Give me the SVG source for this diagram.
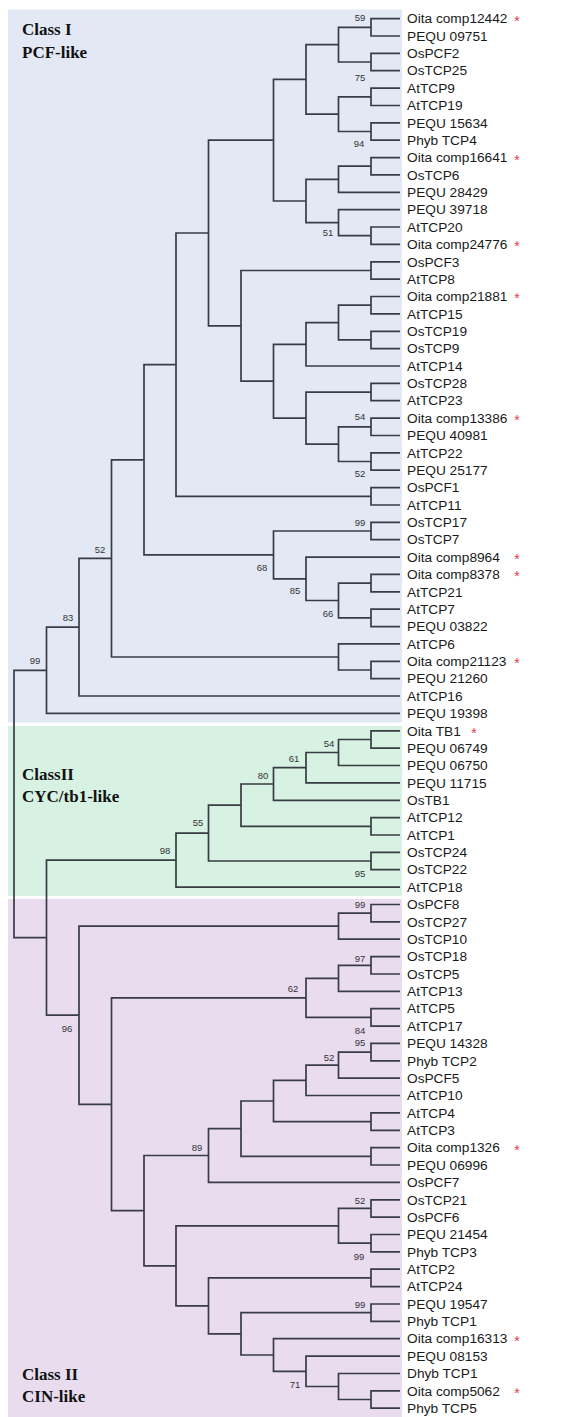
<svg xmlns="http://www.w3.org/2000/svg" width="587" height="1417" viewBox="0 0 587 1417">
<style>
.br{fill:none;stroke:#383c44;stroke-width:1.7;stroke-linejoin:miter;stroke-linecap:butt}
.lf{font-family:"Liberation Sans",Arial,sans-serif;font-size:13.7px;fill:#1a1a1a}
.bs{font-family:"Liberation Sans",Arial,sans-serif;font-size:9.5px;fill:#333;text-anchor:middle}
.st{font-family:"Liberation Sans",Arial,sans-serif;font-size:14px;fill:#e53940;text-anchor:middle}
.cl{font-family:"Liberation Serif","Times New Roman",serif;font-size:17px;font-weight:bold;fill:#111}
</style>
<rect width="587" height="1417" fill="#ffffff"/>
<g id="panels">
<rect x="8" y="9.5" width="394" height="713" fill="#e3e9f4"/>
<rect x="8" y="726" width="394" height="170" fill="#d7f1e3"/>
<rect x="8" y="899" width="394" height="518" fill="#e9dcef"/>
</g>
<g id="class-titles">
<text class="cl" x="22" y="35">Class I</text>
<text class="cl" x="22" y="58">PCF-like</text>
<text class="cl" x="22" y="780">ClassII</text>
<text class="cl" x="22" y="802">CYC/tb1-like</text>
<text class="cl" x="22" y="1380">Class II</text>
<text class="cl" x="22" y="1402">CIN-like</text>
</g>
<g id="connectors" class="br">
<path d="M400 18.6H371V36H400"/>
<path d="M400 53.3H371V70.7H400"/>
<path d="M371 27.3H338.5V62H371"/>
<path d="M400 88.1H371V105.5H400"/>
<path d="M400 122.8H371V140.2H400"/>
<path d="M371 96.8H338.5V131.5H371"/>
<path d="M338.5 44.7H306V114.1H338.5"/>
<path d="M400 157.6H371V174.9H400"/>
<path d="M371 166.2H338.5V192.3H400"/>
<path d="M400 227H371V244.4H400"/>
<path d="M400 209.7H338.5V235.7H371"/>
<path d="M338.5 179.3H306V222.7H338.5"/>
<path d="M306 79.4H273.5V201H306"/>
<path d="M400 261.8H371V279.2H400"/>
<path d="M400 296.5H371V313.9H400"/>
<path d="M400 331.3H371V348.6H400"/>
<path d="M371 305.2H338.5V339.9H371"/>
<path d="M338.5 322.6H306V366H400"/>
<path d="M400 383.4H371V400.7H400"/>
<path d="M400 418.1H371V435.5H400"/>
<path d="M400 452.9H371V470.2H400"/>
<path d="M371 426.8H338.5V461.5H371"/>
<path d="M371 392.1H306V444.2H338.5"/>
<path d="M306 344.3H273.5V418.1H306"/>
<path d="M371 270.5H241V381.2H273.5"/>
<path d="M273.5 140.2H208.5V325.8H241"/>
<path d="M400 487.6H371V505H400"/>
<path d="M208.5 233H176V496.3H371"/>
<path d="M400 522.3H371V539.7H400"/>
<path d="M400 574.4H371V591.8H400"/>
<path d="M400 609.2H371V626.6H400"/>
<path d="M371 583.1H338.5V617.9H371"/>
<path d="M400 557.1H306V600.5H338.5"/>
<path d="M371 531H273.5V578.8H306"/>
<path d="M176 364.7H144V554.9H273.5"/>
<path d="M400 661.3H371V678.7H400"/>
<path d="M400 643.9H338.5V670H371"/>
<path d="M144 459.8H111.5V657H338.5"/>
<path d="M111.5 558.4H79V696H400"/>
<path d="M79 627.2H46.5V713.4H400"/>
<path d="M400 730.8H371V748.1H400"/>
<path d="M371 739.5H338.5V765.5H400"/>
<path d="M338.5 752.5H306V782.9H400"/>
<path d="M306 767.7H273.5V800.3H400"/>
<path d="M400 817.6H371V835H400"/>
<path d="M273.5 784H241V826.3H371"/>
<path d="M400 852.4H371V869.7H400"/>
<path d="M241 805.1H208.5V861H371"/>
<path d="M208.5 833.1H176V887.1H400"/>
<path d="M400 904.5H371V921.8H400"/>
<path d="M371 913.2H338.5V939.2H400"/>
<path d="M400 956.6H371V974H400"/>
<path d="M371 965.3H338.5V991.3H400"/>
<path d="M400 1008.7H371V1026.1H400"/>
<path d="M338.5 978.3H306V1017.4H371"/>
<path d="M400 1043.4H371V1060.8H400"/>
<path d="M371 1052.1H338.5V1078.2H400"/>
<path d="M338.5 1065.1H306V1095.5H400"/>
<path d="M400 1112.9H371V1130.3H400"/>
<path d="M306 1080.3H273.5V1121.6H371"/>
<path d="M400 1147.7H371V1165H400"/>
<path d="M273.5 1101H241V1156.3H371"/>
<path d="M241 1128.7H208.5V1182.4H400"/>
<path d="M400 1199.8H371V1217.1H400"/>
<path d="M400 1234.5H371V1251.9H400"/>
<path d="M371 1208.4H338.5V1243.2H371"/>
<path d="M400 1269.2H371V1286.6H400"/>
<path d="M400 1304H371V1321.4H400"/>
<path d="M400 1390.8H371V1408.2H400"/>
<path d="M400 1373.5H338.5V1399.5H371"/>
<path d="M400 1356.1H306V1386.5H338.5"/>
<path d="M400 1338.7H273.5V1371.3H306"/>
<path d="M371 1312.7H241V1355H273.5"/>
<path d="M371 1277.9H208.5V1333.8H241"/>
<path d="M338.5 1225.8H176V1305.9H208.5"/>
<path d="M208.5 1155.5H144V1265.9H176"/>
<path d="M306 997.8H111.5V1210.7H144"/>
<path d="M338.5 926.2H79V1104.3H111.5"/>
<path d="M176 860.1H46.5V1015.2H79"/>
<path d="M46.5 670.3H14V937.7H46.5"/>
</g>
<g id="support-values" class="bs">
<text x="360" y="20.9">59</text>
<text x="360" y="80.9">75</text>
<text x="359" y="146.9">94</text>
<text x="328" y="236.4">51</text>
<text x="360" y="420.4">54</text>
<text x="360" y="477.4">52</text>
<text x="360" y="526.4">99</text>
<text x="262" y="571.4">68</text>
<text x="295" y="594.4">85</text>
<text x="328" y="617.4">66</text>
<text x="68" y="621.4">83</text>
<text x="35" y="664.4">99</text>
<text x="100" y="553.4">52</text>
<text x="329" y="747.4">54</text>
<text x="294" y="762.4">61</text>
<text x="263" y="779.4">80</text>
<text x="198" y="826.4">55</text>
<text x="165" y="854.4">98</text>
<text x="360" y="877.4">95</text>
<text x="360" y="908.4">99</text>
<text x="360" y="962.4">97</text>
<text x="293" y="992.4">62</text>
<text x="360" y="1034.4">84</text>
<text x="360" y="1046.4">95</text>
<text x="329" y="1061.4">52</text>
<text x="67" y="1032.4">96</text>
<text x="197" y="1151.4">89</text>
<text x="360" y="1204.4">52</text>
<text x="359" y="1260.4">99</text>
<text x="360" y="1308.4">99</text>
<text x="295" y="1388.4">71</text>
</g>
<g id="leaves" class="lf">
<g id="leaf-01"><text x="407" y="23.3">Oita comp12442</text><text class="st" x="517" y="25.5">*</text></g>
<g id="leaf-02"><text x="407" y="40.7">PEQU 09751</text></g>
<g id="leaf-03"><text x="407" y="58">OsPCF2</text></g>
<g id="leaf-04"><text x="407" y="75.4">OsTCP25</text></g>
<g id="leaf-05"><text x="407" y="92.8">AtTCP9</text></g>
<g id="leaf-06"><text x="407" y="110.2">AtTCP19</text></g>
<g id="leaf-07"><text x="407" y="127.5">PEQU 15634</text></g>
<g id="leaf-08"><text x="407" y="144.9">Phyb TCP4</text></g>
<g id="leaf-09"><text x="407" y="162.3">Oita comp16641</text><text class="st" x="517" y="164.5">*</text></g>
<g id="leaf-10"><text x="407" y="179.6">OsTCP6</text></g>
<g id="leaf-11"><text x="407" y="197">PEQU 28429</text></g>
<g id="leaf-12"><text x="407" y="214.4">PEQU 39718</text></g>
<g id="leaf-13"><text x="407" y="231.7">AtTCP20</text></g>
<g id="leaf-14"><text x="407" y="249.1">Oita comp24776</text><text class="st" x="517" y="251.3">*</text></g>
<g id="leaf-15"><text x="407" y="266.5">OsPCF3</text></g>
<g id="leaf-16"><text x="407" y="283.9">AtTCP8</text></g>
<g id="leaf-17"><text x="407" y="301.2">Oita comp21881</text><text class="st" x="517" y="303.4">*</text></g>
<g id="leaf-18"><text x="407" y="318.6">AtTCP15</text></g>
<g id="leaf-19"><text x="407" y="336">OsTCP19</text></g>
<g id="leaf-20"><text x="407" y="353.3">OsTCP9</text></g>
<g id="leaf-21"><text x="407" y="370.7">AtTCP14</text></g>
<g id="leaf-22"><text x="407" y="388.1">OsTCP28</text></g>
<g id="leaf-23"><text x="407" y="405.4">AtTCP23</text></g>
<g id="leaf-24"><text x="407" y="422.8">Oita comp13386</text><text class="st" x="517" y="425">*</text></g>
<g id="leaf-25"><text x="407" y="440.2">PEQU 40981</text></g>
<g id="leaf-26"><text x="407" y="457.6">AtTCP22</text></g>
<g id="leaf-27"><text x="407" y="474.9">PEQU 25177</text></g>
<g id="leaf-28"><text x="407" y="492.3">OsPCF1</text></g>
<g id="leaf-29"><text x="407" y="509.7">AtTCP11</text></g>
<g id="leaf-30"><text x="407" y="527">OsTCP17</text></g>
<g id="leaf-31"><text x="407" y="544.4">OsTCP7</text></g>
<g id="leaf-32"><text x="407" y="561.8">Oita comp8964</text><text class="st" x="517" y="564">*</text></g>
<g id="leaf-33"><text x="407" y="579.1">Oita comp8378</text><text class="st" x="517" y="581.3">*</text></g>
<g id="leaf-34"><text x="407" y="596.5">AtTCP21</text></g>
<g id="leaf-35"><text x="407" y="613.9">AtTCP7</text></g>
<g id="leaf-36"><text x="407" y="631.3">PEQU 03822</text></g>
<g id="leaf-37"><text x="407" y="648.6">AtTCP6</text></g>
<g id="leaf-38"><text x="407" y="666">Oita comp21123</text><text class="st" x="517" y="668.2">*</text></g>
<g id="leaf-39"><text x="407" y="683.4">PEQU 21260</text></g>
<g id="leaf-40"><text x="407" y="700.7">AtTCP16</text></g>
<g id="leaf-41"><text x="407" y="718.1">PEQU 19398</text></g>
<g id="leaf-42"><text x="407" y="735.5">Oita TB1</text><text class="st" x="474" y="737.7">*</text></g>
<g id="leaf-43"><text x="407" y="752.8">PEQU 06749</text></g>
<g id="leaf-44"><text x="407" y="770.2">PEQU 06750</text></g>
<g id="leaf-45"><text x="407" y="787.6">PEQU 11715</text></g>
<g id="leaf-46"><text x="407" y="805">OsTB1</text></g>
<g id="leaf-47"><text x="407" y="822.3">AtTCP12</text></g>
<g id="leaf-48"><text x="407" y="839.7">AtTCP1</text></g>
<g id="leaf-49"><text x="407" y="857.1">OsTCP24</text></g>
<g id="leaf-50"><text x="407" y="874.4">OsTCP22</text></g>
<g id="leaf-51"><text x="407" y="891.8">AtTCP18</text></g>
<g id="leaf-52"><text x="407" y="909.2">OsPCF8</text></g>
<g id="leaf-53"><text x="407" y="926.5">OsTCP27</text></g>
<g id="leaf-54"><text x="407" y="943.9">OsTCP10</text></g>
<g id="leaf-55"><text x="407" y="961.3">OsTCP18</text></g>
<g id="leaf-56"><text x="407" y="978.7">OsTCP5</text></g>
<g id="leaf-57"><text x="407" y="996">AtTCP13</text></g>
<g id="leaf-58"><text x="407" y="1013.4">AtTCP5</text></g>
<g id="leaf-59"><text x="407" y="1030.8">AtTCP17</text></g>
<g id="leaf-60"><text x="407" y="1048.1">PEQU 14328</text></g>
<g id="leaf-61"><text x="407" y="1065.5">Phyb TCP2</text></g>
<g id="leaf-62"><text x="407" y="1082.9">OsPCF5</text></g>
<g id="leaf-63"><text x="407" y="1100.2">AtTCP10</text></g>
<g id="leaf-64"><text x="407" y="1117.6">AtTCP4</text></g>
<g id="leaf-65"><text x="407" y="1135">AtTCP3</text></g>
<g id="leaf-66"><text x="407" y="1152.4">Oita comp1326</text><text class="st" x="517" y="1154.6">*</text></g>
<g id="leaf-67"><text x="407" y="1169.7">PEQU 06996</text></g>
<g id="leaf-68"><text x="407" y="1187.1">OsPCF7</text></g>
<g id="leaf-69"><text x="407" y="1204.5">OsTCP21</text></g>
<g id="leaf-70"><text x="407" y="1221.8">OsPCF6</text></g>
<g id="leaf-71"><text x="407" y="1239.2">PEQU 21454</text></g>
<g id="leaf-72"><text x="407" y="1256.6">Phyb TCP3</text></g>
<g id="leaf-73"><text x="407" y="1273.9">AtTCP2</text></g>
<g id="leaf-74"><text x="407" y="1291.3">AtTCP24</text></g>
<g id="leaf-75"><text x="407" y="1308.7">PEQU 19547</text></g>
<g id="leaf-76"><text x="407" y="1326.1">Phyb TCP1</text></g>
<g id="leaf-77"><text x="407" y="1343.4">Oita comp16313</text><text class="st" x="517" y="1345.6">*</text></g>
<g id="leaf-78"><text x="407" y="1360.8">PEQU 08153</text></g>
<g id="leaf-79"><text x="407" y="1378.2">Dhyb TCP1</text></g>
<g id="leaf-80"><text x="407" y="1395.5">Oita comp5062</text><text class="st" x="517" y="1397.7">*</text></g>
<g id="leaf-81"><text x="407" y="1412.9">Phyb TCP5</text></g>
</g>
</svg>
